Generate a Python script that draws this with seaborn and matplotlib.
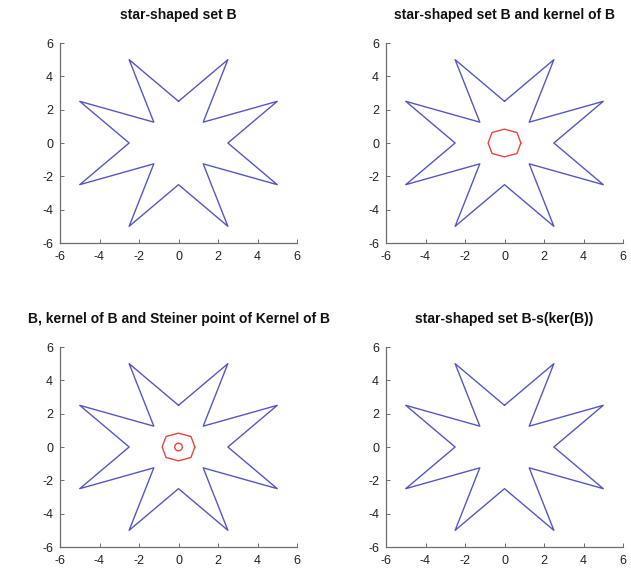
import matplotlib
matplotlib.use("Agg")
import matplotlib.pyplot as plt
import seaborn as sns
import pandas as pd

# star-shaped set B (closed polygon)
star_x = [0, 2.5, 1.25, 5, 2.5, 5, 1.25, 2.5, 0, -2.5, -1.25, -5, -2.5, -5, -1.25, -2.5, 0]
star_y = [2.5, 5, 1.25, 2.5, 0, -2.5, -1.25, -5, -2.5, -5, -1.25, -2.5, 0, 2.5, 1.25, 5, 2.5]
# kernel of B (closed polygon)
ker_x = [0.83, 0.63, 0, -0.63, -0.83, -0.63, 0, 0.63, 0.83]
ker_y = [0, 0.63, 0.83, 0.63, 0, -0.63, -0.83, -0.63, 0]
# Steiner point of kernel
steiner_x = [0.0]
steiner_y = [0.0]

titles = ["star-shaped set B",
          "star-shaped set B and kernel of B",
          "B, kernel of B and Steiner point of Kernel of B",
          "star-shaped set B-s(ker(B))"]
ticks = [-6, -4, -2, 0, 2, 4, 6]

sns.set_theme(style="ticks")
plt.rcParams['font.family'] = ['Liberation Sans', 'DejaVu Sans']

W, H = 631, 569
fig = plt.figure(figsize=(W / 100, H / 100), dpi=100)

blue = "#5656c4"
red = "#e8453c"
spine_c = "#6e6e6e"

pos = [(60, 43, 237, 200), (386, 43, 237, 200), (60, 347, 237, 200), (386, 347, 237, 200)]

star_df = pd.DataFrame({"x": star_x, "y": star_y, "o": range(len(star_x))})
ker_df = pd.DataFrame({"x": ker_x, "y": ker_y, "o": range(len(ker_x))})

for i, (l, t, w, h) in enumerate(pos):
    ax = fig.add_axes([l / W, 1 - (t + h) / H, w / W, h / H])
    sns.lineplot(data=star_df, x="x", y="y", sort=False, estimator=None,
                 color=blue, linewidth=1.0, ax=ax)
    if i in (1, 2):
        sns.lineplot(data=ker_df, x="x", y="y", sort=False, estimator=None,
                     color=red, linewidth=1.0, ax=ax)
    if i == 2:
        sns.scatterplot(x=steiner_x, y=steiner_y, marker="o", s=30,
                        facecolor="none", edgecolor=red, linewidth=1.0, ax=ax)
    ax.set_xlim(-6, 6)
    ax.set_ylim(-6, 6)
    ax.set_xticks(ticks)
    ax.set_yticks(ticks)
    ax.set_xticklabels([str(v) for v in ticks])
    ax.set_yticklabels([str(v) for v in ticks])
    ax.set_xlabel("")
    ax.set_ylabel("")
    sns.despine(ax=ax)
    for s in ("left", "bottom"):
        ax.spines[s].set_color(spine_c)
        ax.spines[s].set_linewidth(0.9)
    ax.tick_params(direction="in", length=3, width=0.7, color=spine_c,
                   labelsize=9, labelcolor="#222222")
    ax.tick_params(axis="x", pad=5.5)
    ax.tick_params(axis="y", pad=5)
    ax.set_title(titles[i], fontsize=10, fontweight="bold", pad=17, color="#111111")

fig.savefig("out.png", dpi=100, facecolor="white")
